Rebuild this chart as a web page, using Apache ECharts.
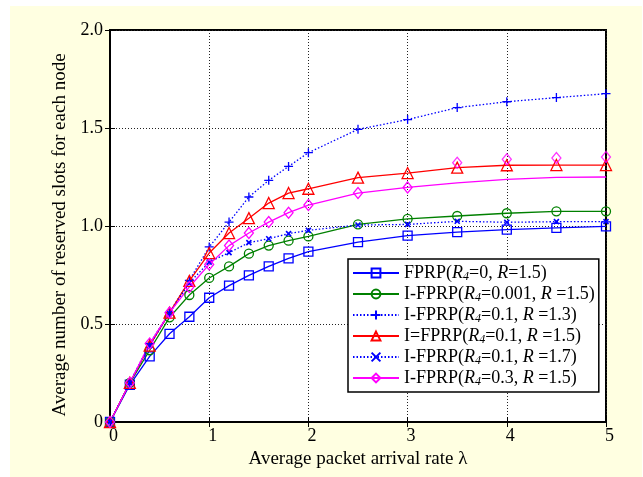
<!DOCTYPE html>
<html>
<head>
<meta charset="utf-8">
<script src="https://cdn.jsdelivr.net/npm/echarts@6/dist/echarts.min.js"></script>
<style>
html,body{margin:0;padding:0;background:#fff;}
#c{width:643px;height:477px;}
</style>
</head>
<body>
<div id="c"></div>
<script>
// ---- data ----
var lambda = [0, 0.2, 0.4, 0.6, 0.8, 1.0, 1.2, 1.4, 1.6, 1.8, 2.0, 2.5, 3.0, 3.5, 4.0, 4.5, 5.0];
var fprp      = [0, 0.19, 0.335, 0.45, 0.537, 0.634, 0.696, 0.748, 0.794, 0.835, 0.869, 0.918, 0.951, 0.969, 0.981, 0.99, 0.998];
var ifprp0001 = [0, 0.20, 0.366, 0.534, 0.648, 0.735, 0.794, 0.859, 0.90, 0.925, 0.947, 1.008, 1.036, 1.051, 1.065, 1.075, 1.075];
var ifprpR13  = [0, 0.20, 0.40, 0.558, 0.723, 0.893, 1.02, 1.148, 1.233, 1.304, 1.374, 1.493, 1.543, 1.604, 1.634, 1.655, 1.675];
var ifprpR15  = [0, 0.20, 0.39, 0.558, 0.72, 0.862, 0.964, 1.04, 1.117, 1.168, 1.19, 1.247, 1.27, 1.298, 1.31, 1.311, 1.311];
var ifprpR17  = [0, 0.20, 0.39, 0.555, 0.71, 0.816, 0.864, 0.915, 0.935, 0.961, 0.978, 1.005, 1.008, 1.024, 1.019, 1.022, 1.022];
var ifprp03   = [0, 0.20, 0.40, 0.558, 0.689, 0.804, 0.90, 0.964, 1.02, 1.068, 1.107, 1.168, 1.197, 1.22, 1.238, 1.248, 1.25];
// diamonds of the R4=0.3 curve drawn off the line at high lambda
var ifprp03MarkX = [3.5, 4.0, 4.5, 5.0];
var ifprp03MarkY = [1.323, 1.34, 1.347, 1.352];
var ifprp03PlainFrom = 3.5; // points from here on drawn without marker on the line

var names = [
  'FPRP(R4=0, R=1.5)',
  'I-FPRP(R4=0.001, R =1.5)',
  'I-FPRP(R4=0.1, R =1.3)',
  'I=FPRP(R4=0.1, R =1.5)',
  'I-FPRP(R4=0.1, R =1.7)',
  'I-FPRP(R4=0.3, R =1.5)'
];
var richLabels = [
  '{n|FPRP(}{i|R}{s|4}{n|=0, }{i|R}{n|=1.5)}',
  '{n|I-FPRP(}{i|R}{s|4}{n|=0.001, }{i|R}{n| =1.5)}',
  '{n|I-FPRP(}{i|R}{s|4}{n|=0.1, }{i|R}{n| =1.3)}',
  '{n|I=FPRP(}{i|R}{s|4}{n|=0.1, }{i|R}{n| =1.5)}',
  '{n|I-FPRP(}{i|R}{s|4}{n|=0.1, }{i|R}{n| =1.7)}',
  '{n|I-FPRP(}{i|R}{s|4}{n|=0.3, }{i|R}{n| =1.5)}'
];
var xTicks = [0, 1, 2, 3, 4, 5];
var yTicks = [0, 0.5, 1.0, 1.5, 2.0];

function pairs(xs, ys) { return xs.map(function (x, i) { return [x, ys[i]]; }); }

var FONT = '"Liberation Serif", "Times New Roman", serif';
var SYM_PLUS = 'path://M5,0L5,10M0,5L10,5';
var SYM_X = 'path://M0,0L10,10M10,0L0,10';

function lineSeries(name, ys, color, dashed, symbol, size, bw) {
  return {
    name: name, type: 'line', data: pairs(lambda, ys),
    xAxisIndex: 0, yAxisIndex: 0,
    symbol: symbol, symbolSize: size, showAllSymbol: true, symbolKeepAspect: true,
    lineStyle: { color: color, width: 1.3, type: dashed ? [1.5, 2] : 'solid' },
    itemStyle: { color: 'rgba(0,0,0,0)', borderColor: color, borderWidth: bw || 1.3 },
    emphasis: { disabled: true },
    animation: false, z: 3
  };
}

var pinkData = pairs(lambda, ifprp03).map(function (p) {
  return p[0] >= ifprp03PlainFrom ? { value: p, symbol: 'none' } : p;
});

var series = [
  lineSeries(names[0], fprp, '#0000FF', false, 'rect', 9),
  lineSeries(names[1], ifprp0001, '#008000', false, 'circle', 9),
  lineSeries(names[2], ifprpR13, '#0000FF', true, SYM_PLUS, 9),
  lineSeries(names[3], ifprpR15, '#FF0000', false, 'triangle', 11),
  lineSeries(names[4], ifprpR17, '#0000FF', true, SYM_X, 5, 1.6),
  lineSeries(names[5], ifprp03, '#FF00FF', false, 'diamond', [9, 11])
];
series[5].data = pinkData;
series.push({
  name: names[5], type: 'scatter', data: pairs(ifprp03MarkX, ifprp03MarkY),
  symbol: 'diamond', symbolSize: [9, 11],
  itemStyle: { color: 'rgba(0,0,0,0)', borderColor: '#FF00FF', borderWidth: 1.3 },
  emphasis: { disabled: true }, animation: false, z: 3
});

var legendRich = {
  n: { fontFamily: FONT, fontSize: 18, color: '#000', lineHeight: 19 },
  i: { fontFamily: FONT, fontSize: 18, fontStyle: 'italic', color: '#000', lineHeight: 19 },
  s: { fontFamily: FONT, fontSize: 12, fontStyle: 'italic', color: '#000', padding: [8, 0, 0, 0] }
};

var chart = echarts.init(document.getElementById('c'), null, { renderer: 'canvas' });
chart.setOption({
  backgroundColor: '#ffffff',
  animation: false,
  graphic: [{
    type: 'rect', z: -10, silent: true,
    shape: { x: 10, y: 6, width: 632, height: 471 },
    style: { fill: '#FFFFE1' }
  }],
  grid: { left: 110, top: 30, right: 37, bottom: 55, show: true, backgroundColor: '#fff', borderColor: '#000', borderWidth: 2 },
  legend: {
    orient: 'vertical', left: 348, top: 259,
    data: names,
    itemWidth: 46, itemHeight: 11, itemGap: 2, padding: [5, 4, 4, 4],
    backgroundColor: '#fff', borderColor: '#000', borderWidth: 1.5, borderRadius: 0,
    inactiveColor: '#000',
    selectedMode: false,
    formatter: function (name) { return richLabels[names.indexOf(name)]; },
    textStyle: { rich: legendRich, fontFamily: FONT, fontSize: 18, color: '#000' }
  },
  xAxis: [{
    type: 'value', min: 0, max: 5, interval: 1,
    name: 'Average packet arrival rate λ', nameLocation: 'middle', nameGap: 28,
    nameTextStyle: { fontFamily: FONT, fontSize: 19, color: '#000' },
    axisLine: { show: true, onZero: false, lineStyle: { color: '#000', width: 2 } },
    axisTick: { show: true, inside: true, length: 5, lineStyle: { color: '#000' } },
    axisLabel: { fontFamily: FONT, fontSize: 18, color: '#000', margin: 5, padding: [0, 0, 0, 7],
      formatter: function (v) { return xTicks.indexOf(v) >= 0 ? String(v) : ''; } },
    splitLine: { show: true, lineStyle: { color: '#222', type: [1, 2], width: 1 } }
  }, {
    type: 'value', min: 0, max: 5, interval: 1, position: 'top',
    axisLine: { show: true, lineStyle: { color: '#000', width: 2 } },
    axisTick: { show: true, inside: true, length: 5, lineStyle: { color: '#000' } },
    axisLabel: { show: false }, splitLine: { show: false }
  }],
  yAxis: [{
    type: 'value', min: 0, max: 2, interval: 0.5,
    name: 'Average number of reserved slots for each node', nameLocation: 'middle', nameGap: 36,
    nameTextStyle: { fontFamily: FONT, fontSize: 19, color: '#000', padding: [0, 18, 0, 0] },
    axisLine: { show: true, onZero: false, lineStyle: { color: '#000', width: 2 } },
    axisTick: { show: true, inside: true, length: 5, lineStyle: { color: '#000' } },
    axisLabel: { fontFamily: FONT, fontSize: 18, color: '#000', margin: 7,
      formatter: function (v) { return v === 0 ? '0' : v.toFixed(1); } },
    splitLine: { show: true, lineStyle: { color: '#222', type: [1, 2], width: 1 } }
  }, {
    type: 'value', min: 0, max: 2, interval: 0.5, position: 'right',
    axisLine: { show: true, lineStyle: { color: '#000', width: 2 } },
    axisTick: { show: true, inside: true, length: 5, lineStyle: { color: '#000' } },
    axisLabel: { show: false }, splitLine: { show: false }
  }],
  series: series
});
</script>
</body>
</html>
